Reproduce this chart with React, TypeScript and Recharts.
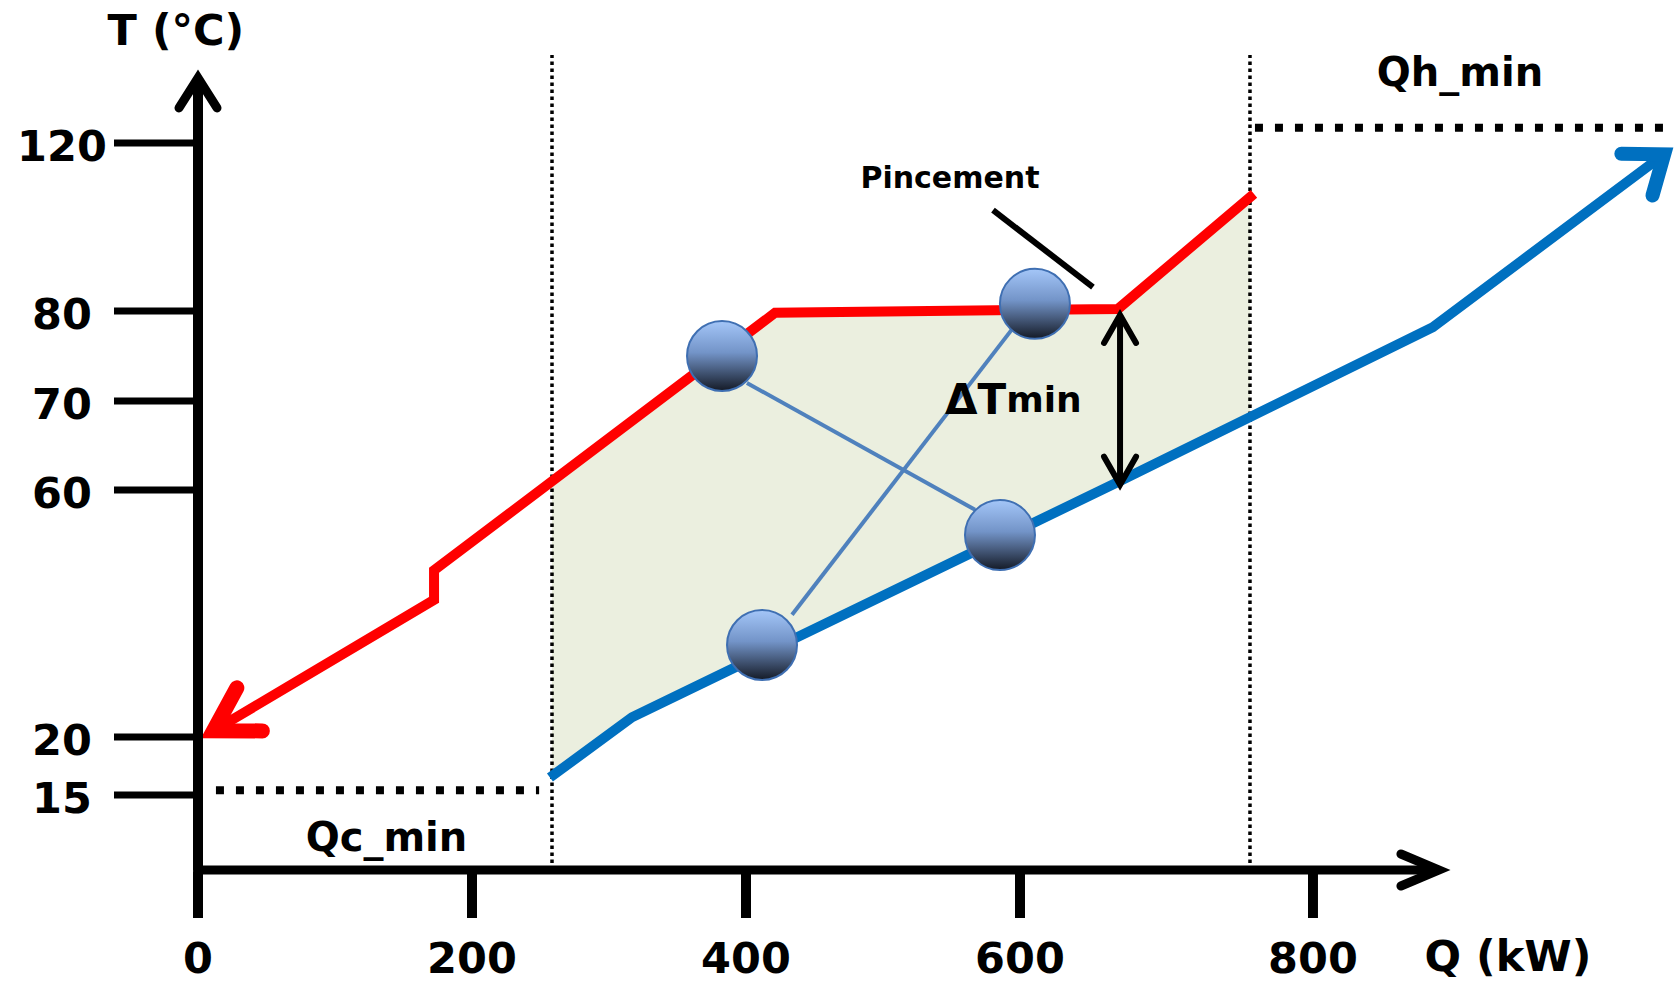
import {
  ComposedChart,
  Area,
  Line,
  Scatter,
  XAxis,
  YAxis,
  ReferenceLine,
  ReferenceDot,
} from "recharts"

// composite curves, Q in kW, T in °C (schematic: the T axis is not linear)
const hotQ = [11.3, 172.3, 172.3, 421.2, 666.9, 759.7]
const hotT = [21.0, 42.2, 47.0, 79.8, 80.5, 107.9]
const coldQ = [256.9, 316.8, 666.9, 887.6, 1056.8]
const coldT = [16.5, 23.2, 60.9, 78.2, 117.3]

// shaded recovery zone between the two curves
const gapQ = [258.4, 316.8, 421.2, 666.9, 757.0]
const gapLow = [16.6, 23.2, 34.4, 60.9, 68.2]
const gapHigh = [61.0, 67.8, 79.8, 80.5, 107.0]

// exchangers and the links between them
const exQ = [382.5, 610.2, 585.4, 411.7]
const exT = [75.0, 81.7, 52.7, 34.9]
const link1Q = [400.7, 567.2]
const link1T = [72.0, 56.8]
const link2Q = [433.6, 596.4]
const link2T = [39.8, 78.4]

const qTicks = [0, 200, 400, 600, 800]
const tTicks = [120, 80, 70, 60, 20, 15]

// axis break points of the drawing
const qKnots = [0, 600, 800, 1064]
const qStops = [0, 0.5569, 0.7554, 1]
const tKnots = [0, 15, 20, 60, 70, 80, 120, 142]
const tStops = [0, 0.0915, 0.1622, 0.4634, 0.572, 0.6817, 0.8866, 1]

const qColdMin = 258.4
const qHotMax = 757.0
const tColdUtil = 15.4
const tHotUtil = 123.6

const FONT = "'DejaVu Sans', Verdana, sans-serif"

const zip = (q: number[], t: number[]) => q.map((v, i) => ({ q: v, t: t[i] }))
const hot = zip(hotQ, hotT)
const cold = zip(coldQ, coldT)
const gap = gapQ.map((q, i) => ({ q, range: [gapLow[i], gapHigh[i]] }))
const exchangers = zip(exQ, exT)
const link1 = zip(link1Q, link1T)
const link2 = zip(link2Q, link2T)

function kneeScale(knots: number[], stops: number[]): any {
  let dom: number[] = [knots[0], knots[knots.length - 1]]
  let rng: number[] = [0, 1]
  const part = (v: number) => {
    let i = 0
    while (i < knots.length - 2 && v > knots[i + 1]) i++
    const k = (v - knots[i]) / (knots[i + 1] - knots[i])
    return stops[i] + k * (stops[i + 1] - stops[i])
  }
  const s: any = (v: number) => rng[0] + part(Number(v)) * (rng[1] - rng[0])
  s.domain = (d?: number[]) => {
    if (!d) return dom.slice()
    dom = d.map(Number)
    return s
  }
  s.range = (r?: number[]) => {
    if (!r) return rng.slice()
    rng = r.map(Number)
    return s
  }
  s.invert = (px: number) => {
    const f = (px - rng[0]) / (rng[1] - rng[0])
    let i = 0
    while (i < stops.length - 2 && f > stops[i + 1]) i++
    const k = (f - stops[i]) / (stops[i + 1] - stops[i])
    return knots[i] + k * (knots[i + 1] - knots[i])
  }
  s.copy = () => kneeScale(knots, stops).domain(dom).range(rng)
  s.ticks = () => knots.slice()
  s.tickFormat = () => (v: number) => String(v)
  s.nice = () => s
  s.clamp = () => s
  return s
}

const qScale = kneeScale(qKnots, qStops)
const tScale = kneeScale(tKnots, tStops)

const notes = [
  { q: -16.1, t: 146.7, text: "T (°C)", size: 43, anchor: "middle" },
  { q: 942.6, t: -17.2, text: "Q (kW)", size: 43, anchor: "middle" },
  { q: 137.6, t: 6.6, text: "Qc_min", size: 40, anchor: "middle" },
  { q: 907.5, t: 136.9, text: "Qh_min", size: 40, anchor: "middle" },
  { q: 548.9, t: 111.7, text: "Pincement", size: 30, anchor: "middle" },
]

function QTick(p: any) {
  return (
    <g>
      <line x1={p.x} x2={p.x} y1={p.y + 2} y2={p.y + 48} stroke="#000" strokeWidth={10} />
      <text
        x={p.x}
        y={p.y + 88}
        textAnchor="middle"
        dominantBaseline="central"
        fontFamily={FONT}
        fontWeight={700}
        fontSize={43}
        fill="#000"
      >
        {p.payload.value}
      </text>
    </g>
  )
}

function TTick(p: any) {
  return (
    <g>
      <line x1={p.x - 84} x2={p.x - 5} y1={p.y} y2={p.y} stroke="#000" strokeWidth={7} />
      <text
        x={p.x - 136}
        y={p.y + 3}
        textAnchor="middle"
        dominantBaseline="central"
        fontFamily={FONT}
        fontWeight={700}
        fontSize={43}
        fill="#000"
      >
        {p.payload.value}
      </text>
    </g>
  )
}

const arrowLine = (width: number, start?: string, end?: string) => (p: any) => (
  <line
    x1={p.x1}
    y1={p.y1}
    x2={p.x2}
    y2={p.y2}
    stroke="#000"
    strokeWidth={width}
    markerStart={start}
    markerEnd={end}
  />
)

export default function App() {
  return (
    <div style={{ position: "absolute", left: 0, top: 0, background: "#fff" }}>
      <ComposedChart width={1674} height={982} margin={{ top: 50, right: 0, bottom: 110, left: 196 }}>
        <defs>
          <linearGradient id="nodeFill" x1="0" y1="0" x2="0" y2="1">
            <stop offset="0%" stopColor="#A4C6F8" />
            <stop offset="45%" stopColor="#7394C8" />
            <stop offset="100%" stopColor="#141A26" />
          </linearGradient>
          <marker id="hotArrow" markerUnits="userSpaceOnUse" orient="auto-start-reverse" refX={0} refY={0} markerWidth={1} markerHeight={1} overflow="visible">
            <path d="M -42 -25 L 0 0 L -42 25" fill="none" stroke="#FF0000" strokeWidth={15} strokeLinecap="round" />
          </marker>
          <marker id="coldArrow" markerUnits="userSpaceOnUse" orient="auto" refX={0} refY={0} markerWidth={1} markerHeight={1} overflow="visible">
            <path d="M -34 -26 L 0 0 L -34 26" fill="none" stroke="#0070C0" strokeWidth={14} strokeLinecap="round" />
          </marker>
          <marker id="axisArrowY" markerUnits="userSpaceOnUse" orient="auto" refX={0} refY={0} markerWidth={1} markerHeight={1} overflow="visible">
            <path d="M -30 -19 L 0 0 L -30 19" fill="none" stroke="#000" strokeWidth={9} strokeLinecap="round" />
          </marker>
          <marker id="axisArrowX" markerUnits="userSpaceOnUse" orient="auto" refX={0} refY={0} markerWidth={1} markerHeight={1} overflow="visible">
            <path d="M -38 -16 L 0 0 L -38 16" fill="none" stroke="#000" strokeWidth={9} strokeLinecap="round" />
          </marker>
          <marker id="gapArrow" markerUnits="userSpaceOnUse" orient="auto-start-reverse" refX={0} refY={0} markerWidth={1} markerHeight={1} overflow="visible">
            <path d="M -28 -16 L 0 0 L -28 16" fill="none" stroke="#000" strokeWidth={6} strokeLinecap="round" />
          </marker>
        </defs>

        <XAxis
          dataKey="q"
          type="number"
          scale={qScale}
          domain={[0, 1064]}
          ticks={qTicks}
          interval={0}
          tick={(p: any) => <QTick {...p} />}
          tickLine={false}
          axisLine={false}
          tickSize={0}
          tickMargin={0}
          height={2}
        />
        <YAxis
          dataKey="t"
          type="number"
          scale={tScale}
          domain={[0, 142]}
          ticks={tTicks}
          interval={0}
          tick={(p: any) => <TTick {...p} />}
          tickLine={false}
          axisLine={false}
          tickSize={0}
          tickMargin={0}
          width={2}
        />

        <Area
          data={gap}
          dataKey="range"
          type="linear"
          stroke="none"
          fill="#EBEFDF"
          fillOpacity={1}
          dot={false}
          activeDot={false}
          isAnimationActive={false}
        />

        <ReferenceLine segment={[{ x: qColdMin, y: 0 }, { x: qColdMin, y: 140.8 }]} stroke="#000" strokeWidth={3.5} strokeDasharray="3.5 3.5" ifOverflow="visible" />
        <ReferenceLine segment={[{ x: qHotMax, y: 0 }, { x: qHotMax, y: 140.8 }]} stroke="#000" strokeWidth={3.5} strokeDasharray="3.5 3.5" ifOverflow="visible" />
        <ReferenceLine segment={[{ x: 13.1, y: tColdUtil }, { x: 249, y: tColdUtil }]} stroke="#000" strokeWidth={8} strokeDasharray="8 12" ifOverflow="visible" />
        <ReferenceLine segment={[{ x: 760.4, y: tHotUtil }, { x: 1064, y: tHotUtil }]} stroke="#000" strokeWidth={8} strokeDasharray="8 12" ifOverflow="visible" />

        <Line data={hot} dataKey="t" type="linear" stroke="#FF0000" strokeWidth={10} dot={false} activeDot={false} markerStart="url(#hotArrow)" isAnimationActive={false} />
        <Line data={cold} dataKey="t" type="linear" stroke="#0070C0" strokeWidth={10} dot={false} activeDot={false} markerEnd="url(#coldArrow)" isAnimationActive={false} />

        <ReferenceLine segment={[{ x: 0, y: 0 }, { x: 0, y: 135.4 }]} ifOverflow="visible" shape={arrowLine(10, undefined, "url(#axisArrowY)")} />
        <ReferenceLine segment={[{ x: -3.6, y: 0 }, { x: 892.1, y: 0 }]} ifOverflow="visible" shape={arrowLine(9, undefined, "url(#axisArrowX)")} />
        <ReferenceLine segment={[{ x: 668.3, y: 79.56 }, { x: 668.3, y: 60.6 }]} ifOverflow="visible" shape={arrowLine(6, "url(#gapArrow)", "url(#gapArrow)")} />
        <ReferenceLine segment={[{ x: 580.3, y: 104.0 }, { x: 649.8, y: 85.7 }]} stroke="#000" strokeWidth={6} ifOverflow="visible" />

        <Line data={link1} dataKey="t" type="linear" stroke="#4F81BD" strokeWidth={4} dot={false} activeDot={false} isAnimationActive={false} />
        <Line data={link2} dataKey="t" type="linear" stroke="#4F81BD" strokeWidth={4} dot={false} activeDot={false} isAnimationActive={false} />

        <Scatter
          data={exchangers}
          dataKey="t"
          isAnimationActive={false}
          shape={(p: any) => (
            <circle cx={p.cx} cy={p.cy} r={35} fill="url(#nodeFill)" stroke="#3F6FB2" strokeWidth={2} />
          )}
        />

        {notes.map((n) => (
          <ReferenceDot
            key={n.text}
            x={n.q}
            y={n.t}
            r={0}
            ifOverflow="visible"
            shape={(p: any) => (
              <text
                x={p.cx}
                y={p.cy}
                textAnchor={n.anchor}
                dominantBaseline="central"
                fontFamily={FONT}
                fontWeight={700}
                fontSize={n.size}
                fill="#000"
              >
                {n.text}
              </text>
            )}
          />
        ))}
        <ReferenceDot
          x={545.3}
          y={70.2}
          r={0}
          ifOverflow="visible"
          shape={(p: any) => (
            <text x={p.cx} y={p.cy} dominantBaseline="central" fontFamily={FONT} fontWeight={700} fill="#000">
              <tspan fontSize={42}>ΔT</tspan>
              <tspan fontSize={36}>min</tspan>
            </text>
          )}
        />
      </ComposedChart>
    </div>
  )
}
